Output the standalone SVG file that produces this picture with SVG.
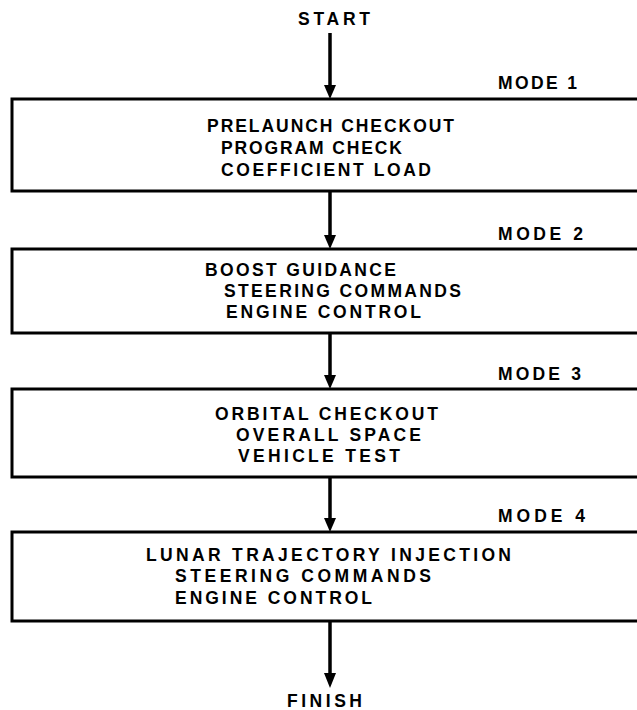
<svg xmlns="http://www.w3.org/2000/svg" width="637" height="710" viewBox="0 0 637 710">
<defs>
<style>
text{font-family:"Liberation Sans",Arial,sans-serif;font-weight:bold;font-size:17.5px;fill:#000}
.box{fill:#fff;stroke:#000;stroke-width:3}
.con line{stroke:#000;stroke-width:3.5}
.con path{fill:#000}
</style>
</defs>
<rect width="637" height="710" fill="#fff"/>
<g class="con">
<line x1="330" y1="33" x2="330" y2="86"/>
<path d="M324,85 L336,85 L330,99 Z"/>
<line x1="330" y1="191" x2="330" y2="236"/>
<path d="M324,235 L336,235 L330,249 Z"/>
<line x1="330" y1="333" x2="330" y2="376"/>
<path d="M324,375 L336,375 L330,389 Z"/>
<line x1="330" y1="477" x2="330" y2="519"/>
<path d="M324,518 L336,518 L330,532 Z"/>
<line x1="330" y1="621" x2="330" y2="674"/>
<path d="M324,673 L336,673 L330,688 Z"/>
</g>
<g id="start"><text x="298" y="25" textLength="72" lengthAdjust="spacing">START</text></g>
<g id="mode1">
<text x="498" y="89" textLength="79" lengthAdjust="spacing">MODE 1</text>
<rect class="box" x="12" y="99" width="640" height="92"/>
<text x="207" y="132" textLength="247" lengthAdjust="spacing">PRELAUNCH CHECKOUT</text>
<text x="221" y="154" textLength="181" lengthAdjust="spacing">PROGRAM CHECK</text>
<text x="221" y="176" textLength="210" lengthAdjust="spacing">COEFFICIENT LOAD</text>
</g>
<g id="mode2">
<text x="498" y="240" textLength="85" lengthAdjust="spacing">MODE 2</text>
<rect class="box" x="12" y="249" width="640" height="84"/>
<text x="205" y="276" textLength="191" lengthAdjust="spacing">BOOST GUIDANCE</text>
<text x="224" y="297" textLength="237" lengthAdjust="spacing">STEERING COMMANDS</text>
<text x="226" y="318" textLength="195" lengthAdjust="spacing">ENGINE CONTROL</text>
</g>
<g id="mode3">
<text x="498" y="380" textLength="83" lengthAdjust="spacing">MODE 3</text>
<rect class="box" x="12" y="389" width="640" height="88"/>
<text x="215" y="420" textLength="223" lengthAdjust="spacing">ORBITAL CHECKOUT</text>
<text x="236" y="441" textLength="185" lengthAdjust="spacing">OVERALL SPACE</text>
<text x="238" y="462" textLength="162" lengthAdjust="spacing">VEHICLE TEST</text>
</g>
<g id="mode4">
<text x="498" y="522" textLength="87" lengthAdjust="spacing">MODE 4</text>
<rect class="box" x="12" y="532" width="640" height="89"/>
<text x="146" y="561" textLength="365" lengthAdjust="spacing">LUNAR TRAJECTORY INJECTION</text>
<text x="175" y="582" textLength="256" lengthAdjust="spacing">STEERING COMMANDS</text>
<text x="175" y="604" textLength="197" lengthAdjust="spacing">ENGINE CONTROL</text>
</g>
<g id="finish"><text x="287" y="707" textLength="75" lengthAdjust="spacing">FINISH</text></g>
</svg>
